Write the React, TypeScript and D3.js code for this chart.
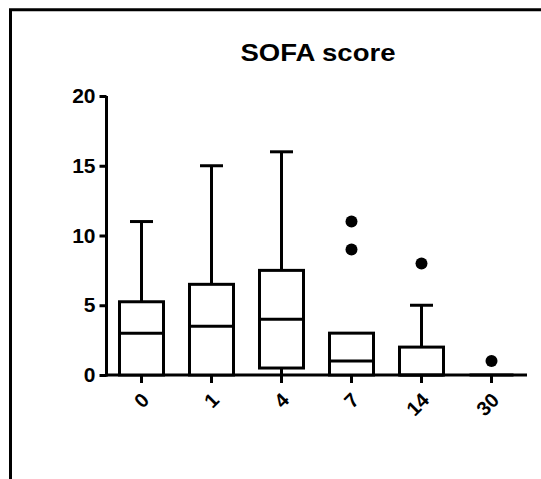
import {useEffect, useRef} from 'react';
import * as d3 from 'd3';

const days = ['0', '1', '4', '7', '14', '30'];
const mins = [0, 0, 0, 0, 0, 0];
const q1s = [0, 0, 0.5, 0, 0, 0];
const medians = [3, 3.5, 4, 1, 0, 0];
const q3s = [5.25, 6.5, 7.5, 3, 2, 0];
const maxs = [11, 15, 16, 3, 5, 0];
const outliers = [[], [], [], [9, 11], [8], [1]];
const yTicks = [0, 5, 10, 15, 20];

export default function App() {
    const ref = useRef<SVGSVGElement>(null);

    useEffect(() => {
        const width = 541;
        const height = 479;
        const svg = d3.select(ref.current);
        svg.selectAll('*').remove();
        svg.attr('viewBox', `0 0 ${width} ${height}`);

        const font = 'Arial, "Liberation Sans", sans-serif';

        // frame (left + top only)
        svg.append('path')
            .attr('d', `M10.5,${height + 5} V9.7 H${width + 5}`)
            .attr('fill', 'none')
            .attr('stroke', '#000')
            .attr('stroke-width', 3);

        const x = d3.scaleBand().domain(days).range([106.5, 526.5]).padding(0);
        const y = d3.scaleLinear().domain([0, 20]).range([375, 96]);
        const cx = (i: number) => x(days[i])! + x.bandwidth() / 2;
        const boxW = 44;
        const capW = 23;

        svg.append('text')
            .attr('x', 318)
            .attr('y', 61)
            .attr('text-anchor', 'middle')
            .style('font-family', font)
            .style('font-weight', 'bold')
            .style('font-size', '24px')
            .attr('textLength', 155)
            .attr('lengthAdjust', 'spacingAndGlyphs')
            .text('SOFA score');

        // y axis
        const yAxis = svg.append('g')
            .attr('transform', 'translate(106.5,0)')
            .call(d3.axisLeft(y).tickValues(yTicks).tickSize(7).tickPadding(4).tickSizeOuter(0));
        yAxis.select('.domain').attr('stroke-width', 3).attr('d', `M0,${y(20)}V${y(0) + 1.5}`);
        yAxis.selectAll('.tick line').attr('stroke-width', 3);
        yAxis.selectAll('.tick text')
            .style('font-family', font)
            .style('font-weight', 'bold')
            .style('font-size', '21px')
            .attr('fill', '#000');

        // x axis
        const xAxis = svg.append('g')
            .attr('transform', 'translate(0,375)')
            .call(d3.axisBottom(x).tickSize(8).tickSizeOuter(0));
        xAxis.select('.domain').attr('stroke-width', 3).attr('d', 'M105,0H527');
        xAxis.selectAll('.tick line').attr('stroke-width', 3);
        xAxis.selectAll('.tick text')
            .style('font-family', font)
            .style('font-weight', 'bold')
            .style('font-size', '20px')
            .attr('fill', '#000')
            .attr('text-anchor', 'end')
            .attr('dy', '0.35em')
            .attr('y', 0)
            .attr('transform', 'translate(4,21.5) rotate(-45)');

        const g = svg.append('g').attr('stroke', '#000').attr('stroke-width', 3).attr('fill', 'none');

        days.forEach((d, i) => {
            const c = cx(i);
            // upper whisker
            if (maxs[i] > q3s[i]) {
                g.append('line').attr('x1', c).attr('x2', c).attr('y1', y(q3s[i])).attr('y2', y(maxs[i]));
                g.append('line').attr('x1', c - capW / 2).attr('x2', c + capW / 2).attr('y1', y(maxs[i])).attr('y2', y(maxs[i]));
            }
            // lower whisker
            if (mins[i] < q1s[i]) {
                g.append('line').attr('x1', c).attr('x2', c).attr('y1', y(q1s[i])).attr('y2', y(mins[i]));
            }
            g.append('rect')
                .attr('x', c - boxW / 2)
                .attr('y', y(q3s[i]))
                .attr('width', boxW)
                .attr('height', y(q1s[i]) - y(q3s[i]))
                .attr('fill', '#fff');
            g.append('line')
                .attr('x1', c - boxW / 2).attr('x2', c + boxW / 2)
                .attr('y1', y(medians[i])).attr('y2', y(medians[i]));
        });

        svg.append('g')
            .selectAll('circle')
            .data(outliers.flatMap((vals, i) => vals.map((v) => ({i, v}))))
            .enter()
            .append('circle')
            .attr('cx', (d) => cx(d.i))
            .attr('cy', (d) => y(d.v))
            .attr('r', 6)
            .attr('fill', '#000');
    }, []);

    return (
        <svg
            ref={ref}
            width={541}
            height={479}
            style={{position: 'absolute', left: 0, top: 0, background: '#fff'}}
        ></svg>
    );
}
